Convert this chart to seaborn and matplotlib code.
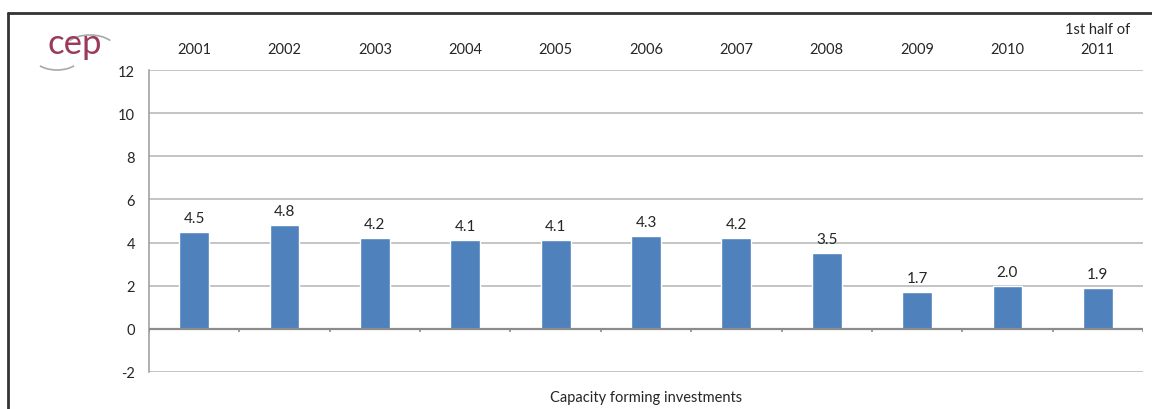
import numpy as np
import pandas as pd
import matplotlib
matplotlib.use("Agg")
import matplotlib.pyplot as plt
from matplotlib.patches import Arc
from matplotlib.lines import Line2D
import seaborn as sns

# Investment shares by period
periods = ["2001", "2002", "2003", "2004", "2005", "2006", "2007", "2008",
           "2009", "2010", "1st half of\n2011"]
values = [4.5, 4.8, 4.2, 4.1, 4.1, 4.3, 4.2, 3.5, 1.7, 2.0, 1.9]
y_ticks = [-2, 0, 2, 4, 6, 8, 10, 12]
caption = "Capacity forming investments"

sns.set_theme(style="white")
plt.rcParams["font.family"] = ["Lato", "DejaVu Sans"]
plt.rcParams["axes.unicode_minus"] = False

df = pd.DataFrame({"period": periods, "value": values})

fig = plt.figure(figsize=(11.52, 4.10), dpi=100)
ax = fig.add_axes([149 / 1152, 1 - 373 / 410, (1143 - 149) / 1152, (373 - 71) / 410])

sns.barplot(data=df, x="period", y="value", order=periods, color="#4F81BD",
            saturation=1, width=0.33, ax=ax, zorder=3)

ax.set_ylim(y_ticks[0], y_ticks[-1])
ax.set_xlim(-0.5, len(periods) - 0.5)
ax.set_yticks(y_ticks)
ax.yaxis.grid(True, color="#B4B4B4", linewidth=1.1, zorder=0)
ax.set_axisbelow(True)

for side in ["top", "right", "bottom"]:
    ax.spines[side].set_visible(False)
ax.spines["left"].set_color("#9A9A9A")
ax.spines["left"].set_linewidth(1.1)

# Zero line with category separators
ax.axhline(0, color="#8C8C8C", linewidth=1.6, zorder=4)
bounds = np.arange(len(periods) + 1) - 0.5
ax.vlines(bounds, -0.13, 0, color="#8C8C8C", linewidth=1.2, zorder=4)

# Period labels along the top
ax.xaxis.tick_top()
ax.tick_params(axis="x", length=0, pad=10, labelsize=10.5, labelcolor="#262626")
ax.tick_params(axis="y", length=0, pad=10, labelsize=10.5, labelcolor="#262626")
for lbl in ax.get_xticklabels():
    lbl.set_ha("center")
    lbl.set_multialignment("center")
    lbl.set_linespacing(1.55)
ax.set_ylabel("")
ax.xaxis.set_label_position("bottom")
ax.set_xlabel(caption, fontsize=10.5, color="#262626", labelpad=13)

ax.bar_label(ax.containers[0], labels=[f"{v:.1f}" for v in values],
             padding=5, fontsize=11, color="#262626")

# Outer frame
fig.add_artist(Line2D([8 / 1152, 8 / 1152], [0, 1 - 14 / 410],
                      color="#333333", linewidth=2, transform=fig.transFigure))
fig.add_artist(Line2D([8 / 1152, 1], [1 - 14 / 410, 1 - 14 / 410],
                      color="#333333", linewidth=2, transform=fig.transFigure))

# Logo
lax = fig.add_axes([30 / 1152, 1 - 80 / 410, 100 / 1152, 55 / 410])
lax.set_xlim(30, 130)
lax.set_ylim(80, 25)
lax.axis("off")
lax.text(75, 44, "cep", fontsize=25, color="#9B3A5A", ha="center", va="center",
         family=["Lato", "DejaVu Sans"])
lax.add_patch(Arc((90, 51), 52, 30, theta1=205, theta2=335, color="#A8A8A8", linewidth=1.2))
lax.add_patch(Arc((57, 57), 48, 28, theta1=30, theta2=150, color="#A8A8A8", linewidth=1.2))

fig.savefig("out.png", dpi=100)
